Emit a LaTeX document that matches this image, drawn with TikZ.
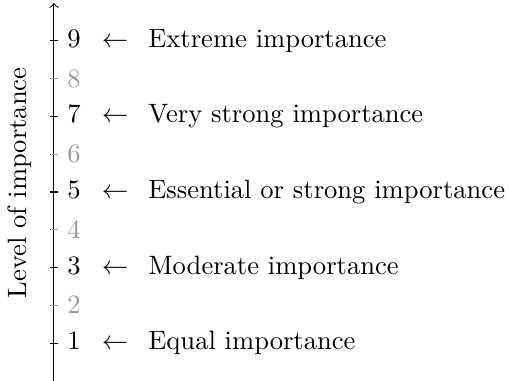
\documentclass[tikz,border=0pt]{standalone}
\newcommand{\lvlrow}[2]{$#1$\hspace{8pt}$\leftarrow$\hspace{7.5pt}#2}
\begin{document}
\begin{tikzpicture}[
  lvl/.style={anchor=west, inner sep=0pt},
  minor/.style={lvl, text=gray!80},
  tickmark/.style={line width=0.4pt},
]
\useasboundingbox (-0.714,0) rectangle (6.02,5.04);
\coordinate (bot) at (0,0);
\coordinate (top) at (0,5);
\draw[->] (bot) -- (top);
\foreach \n in {1,3,5,7,9} {
  \draw[tickmark] (-1.5pt,0.5*\n) -- (1.5pt,0.5*\n);
}
\foreach \n in {2,4,6,8} {
  \draw[tickmark,gray!80] (-1.5pt,0.5*\n) -- (1.5pt,0.5*\n);
  \node[minor] (m\n) at (0.17,0.5*\n) {$\n$};
}
\node[lvl] (l9) at (0.17,4.5) {\lvlrow{9}{Extreme importance}};
\node[lvl] (l7) at (0.17,3.5) {\lvlrow{7}{Very strong importance}};
\node[lvl] (l5) at (0.17,2.5) {\lvlrow{5}{Essential or strong importance}};
\node[lvl] (l3) at (0.17,1.5) {\lvlrow{3}{Moderate importance}};
\node[lvl] (l1) at (0.17,0.5) {\lvlrow{1}{Equal importance}};
\node[rotate=90] (ylab) at (-0.45,2.62) {Level of importance};
\end{tikzpicture}
\end{document}
